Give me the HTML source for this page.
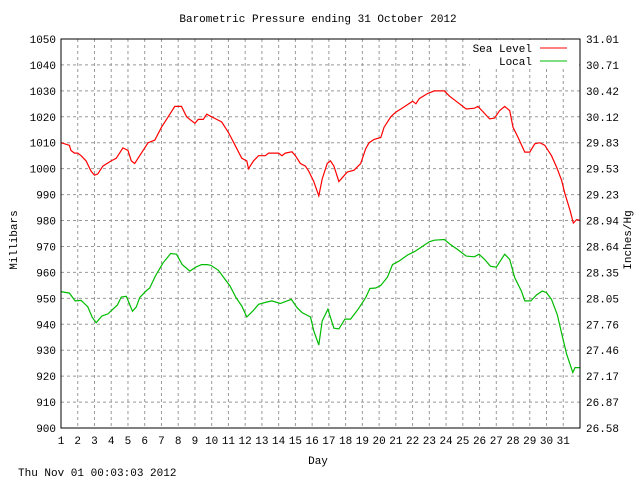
<!DOCTYPE html>
<html><head><meta charset="utf-8"><style>
body{margin:0;background:#fff;}
svg{display:block;font-family:"Liberation Mono",monospace;font-size:11px;}
</style></head><body>
<svg id="chart" width="640" height="480">
<rect width="640" height="480" fill="#fff"/>
<text x="318" y="22" text-anchor="middle">Barometric Pressure ending 31 October 2012</text>
<g id="grid"></g>
<g id="ticks"></g>
<g id="series"></g>
<rect x="61" y="39" width="519" height="389" fill="none" stroke="#000"/>
<text transform="translate(17,240) rotate(-90)" text-anchor="middle">Millibars</text>
<text transform="translate(631,240) rotate(-90)" text-anchor="middle">Inches/Hg</text>
<text x="318" y="464" text-anchor="middle">Day</text>
<text x="18" y="476">Thu Nov 01 00:03:03 2012</text>
<g>
<text x="532" y="52" text-anchor="end">Sea Level</text>
<line x1="540" y1="48" x2="567" y2="48" stroke="#f00"/>
<text x="532" y="65" text-anchor="end">Local</text>
<line x1="540" y1="61" x2="567" y2="61" stroke="#0b0"/>
</g>
</svg>
<script>
const yTicks=[900,910,920,930,940,950,960,970,980,990,1000,1010,1020,1030,1040,1050];
const y2Labels=["26.58","26.87","27.17","27.46","27.76","28.05","28.35","28.64","28.94","29.23","29.53","29.83","30.12","30.42","30.71","31.01"];
const dayTicks=[1,2,3,4,5,6,7,8,9,10,11,12,13,14,15,16,17,18,19,20,21,22,23,24,25,26,27,28,29,30,31];
const seaDays=[1,1.5,1.6,1.8,2,2.2,2.5,2.8,3,3.2,3.5,4,4.3,4.5,4.7,5,5.2,5.4,5.7,6,6.2,6.6,7,7.3,7.6,7.8,8.2,8.5,9,9.2,9.5,9.7,10,10.3,10.6,11,11.4,11.8,12.1,12.2,12.5,12.8,13.2,13.4,14,14.2,14.4,14.8,15,15.3,15.6,15.8,16.1,16.4,16.6,16.9,17.1,17.3,17.6,17.8,18.1,18.5,18.9,19.2,19.4,19.7,20.1,20.3,20.7,21,21.3,22,22.2,22.4,22.9,23.3,23.9,24.2,24.6,25.2,25.7,25.9,26.2,26.6,26.9,27.2,27.5,27.8,28,28.3,28.7,29,29.3,29.6,29.9,30.3,30.6,30.9,31.1,31.4,31.6,31.8,32];
const seaLevel=[1010,1009,1007,1006,1006,1005,1003,999,997.5,998,1001,1003,1004,1006,1008,1007,1003,1002,1005,1008,1010,1011,1016,1019,1022,1024,1024,1020,1017.5,1019,1019,1021,1020,1019,1018,1014,1009,1004,1003,1000,1003,1005,1005,1006,1006,1005,1006,1006.5,1005,1002,1001,999,995,989.5,996,1002,1003,1001,995,996.5,998.7,999.4,1002,1007.7,1010,1011.3,1012,1016,1020,1021.8,1023,1026,1025,1027,1029,1030,1030,1028,1026,1023,1023.3,1024,1022,1019.2,1019.5,1022.4,1024,1022.4,1016,1012,1006.4,1006.4,1009.6,1010,1009,1005,1000.6,995.5,990.4,984,979,980.4,980];
const localDays=[1,1.5,1.84,2.2,2.4,2.6,2.87,3.1,3.44,3.8,4.13,4.36,4.6,4.9,5.27,5.5,5.7,6.07,6.3,6.64,7.1,7.55,7.9,8.24,8.7,9.04,9.4,9.73,9.96,10.4,10.8,11.1,11.45,11.8,12.1,12.5,12.8,13.3,13.6,14.1,14.5,14.76,15.1,15.4,15.9,16.1,16.4,16.6,16.94,17.3,17.6,17.96,18.3,18.77,19.2,19.45,19.8,20.1,20.5,20.8,21.2,21.7,22.1,22.3,23,23.3,23.9,24.25,24.7,25.2,25.7,25.97,26.3,26.65,27,27.5,27.8,28.1,28.5,28.7,29.06,29.4,29.74,30,30.3,30.64,30.87,31.2,31.57,31.7,32];
const local=[952.6,952,949,949.2,948,946.7,942.6,940.6,943.2,944,946,947.4,950.5,950.8,945,946.7,950.3,952.8,954,958.6,963.7,967.3,967,963,960.5,962,963,963,962.7,960.8,957.3,954.7,950.3,947,942.8,945.4,947.7,948.6,949,948,949,949.6,946.4,944.5,942.8,937.4,932,941.3,945.8,938.5,938.2,942,942,946,950.3,953.8,954,955,958.2,963,964.4,966.7,968,968.8,971.8,972.4,972.7,970.8,968.8,966.3,966,967,965,962.4,962,967,965,958,952.8,949,949,951.3,952.8,952.2,949.6,943.8,937.4,928.5,921.4,923.3,923.3];

const NS="http://www.w3.org/2000/svg";
const L=61,R=580,T=39,B=428;
function xs(d){return L+(d-1)*(R-L)/31;}
function ys(v){return B-(v-900)*(B-T)/150;}
const grid=document.getElementById('grid'),ticks=document.getElementById('ticks'),series=document.getElementById('series');
function mk(tag,attrs,parent){const e=document.createElementNS(NS,tag);for(const k in attrs)e.setAttribute(k,attrs[k]);parent.appendChild(e);return e;}
yTicks.forEach((v,i)=>{
  const y=ys(v);
  if(i>0&&i<yTicks.length-1){
    const g=mk('line',{x1:L,x2:R,y1:y,y2:y,stroke:'#999','stroke-dasharray':'3,3'},grid);
    
    
  }
  const t=mk('text',{x:56,y:y+4,'text-anchor':'end'},ticks);
  t.textContent=v;
  
  
  const t2=mk('text',{x:586,y:y+4},ticks);
  t2.textContent=y2Labels[i];
  
  
});
dayTicks.forEach(d=>{
  const x=xs(d);
  if(d>1){
    const g=mk('line',{x1:x,x2:x,y1:T,y2:B,stroke:'#999','stroke-dasharray':'3,3'},grid);
    
    
  }
  const t=mk('text',{x:x,y:444,'text-anchor':'middle'},ticks);
  t.textContent=d;
  
  
});
const lg=mk('rect',{x:470,y:40,width:109,height:28,fill:'#fff'},grid);


function line(days,vals,color,name){
  const pts=days.map((d,i)=>xs(d).toFixed(1)+','+ys(vals[i]).toFixed(1)).join(' ');
  const p=mk('polyline',{points:pts,fill:'none',stroke:color,'stroke-width':1.2},series);
  
  
}
line(seaDays,seaLevel,'#f00','sea-level-line');
line(localDays,local,'#0b0','local-line');
</script>
</body></html>
